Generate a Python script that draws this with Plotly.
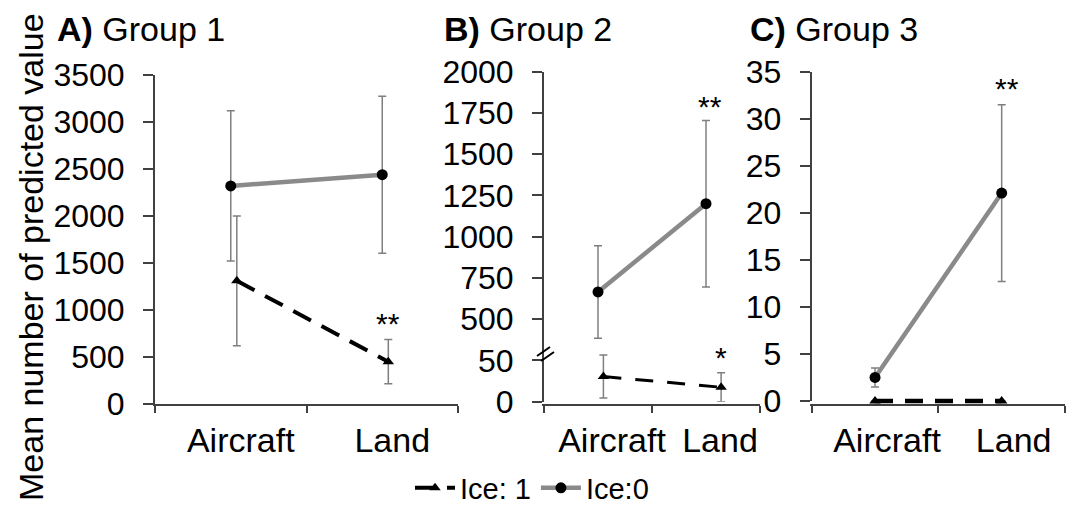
import plotly.graph_objects as go

W, H = 1073, 508

# ---------------- data ----------------
categories = ["Aircraft", "Land"]

g1_ice0 = [2320, 2440]
g1_ice0_err = [800, 835]
g1_ice1 = [1310, 450]
g1_ice1_err = [690, 235]

g2_ice0 = [665, 1200]
g2_ice0_err = [280, 505]
g2_ice1 = [30.5, 17.5]
g2_ice1_err = [26, 17.5]

g3_ice0 = [2.5, 22.1]
g3_ice0_err = [1.0, 9.4]
g3_ice1 = [0, 0]
g3_ice1_err = [0, 0]

g1_ticks = [0, 500, 1000, 1500, 2000, 2500, 3000, 3500]
g2_tickvals = [0, 250, 500, 750, 1000, 1250, 1500, 1750, 2000]
g2_ticktext = ["0", "50", "500", "750", "1000", "1250", "1500", "1750", "2000"]
g3_ticks = [0, 5, 10, 15, 20, 25, 30, 35]

# ---------------- styling ----------------
FONT = "Liberation Sans, Arial, sans-serif"
AX = "#404040"
GRAY = "#8a8a8a"
ERR = "#7f7f7f"


def px_x(p):
    return p / W


def px_y(p):
    return 1 - p / H


xpos = [0, 1]
off_a = [0.04, 0.04]
off_b = [0.05, 0.14]

fig = go.Figure()


def add_pair(xa, ya, xa1, ya1, ice0, e0, ice1, e1, offs, show, w1=4, dash1="dash"):
    fig.add_trace(go.Scatter(
        x=[p + o for p, o in zip(xpos, offs)], y=ice1, xaxis=xa1, yaxis=ya1,
        mode="lines+markers", name="Ice: 1", legendgroup="i1", showlegend=show,
        legendrank=1,
        line=dict(color="black", width=w1, dash=dash1),
        marker=dict(symbol="triangle-up", size=10, color="black"),
        error_y=dict(type="data", array=e1, visible=True, color=ERR,
                     thickness=1.5, width=4),
        cliponaxis=False))
    fig.add_trace(go.Scatter(
        x=xpos, y=ice0, xaxis=xa, yaxis=ya,
        mode="lines+markers", name="Ice:0", legendgroup="i0", showlegend=show,
        legendrank=2,
        line=dict(color=GRAY, width=4.5),
        marker=dict(symbol="circle", size=11, color="black"),
        error_y=dict(type="data", array=e0, visible=True, color=ERR,
                     thickness=1.5, width=4),
        cliponaxis=False))


add_pair("x", "y", "x", "y", g1_ice0, g1_ice0_err, g1_ice1, g1_ice1_err, off_a, True,
         dash1="20px,12px")
add_pair("x2", "y2", "x2", "y4", g2_ice0, g2_ice0_err, g2_ice1, g2_ice1_err, off_b, False,
         w1=3, dash1="18px,14px")
add_pair("x3", "y3", "x5", "y5", g3_ice0, g3_ice0_err, g3_ice1, g3_ice1_err, [0, 0], False,
         w1=4.5, dash1="18px,12px")

ytickfont = dict(family=FONT, size=32, color="black")
xtickfont = dict(family=FONT, size=34, color="black")


def xaxis(dom, shift):
    return dict(domain=dom, range=[-0.5, 1.5], tickvals=xpos, ticktext=categories,
                ticks="", showline=True, linecolor=AX, linewidth=2,
                showgrid=False, zeroline=False, tickfont=xtickfont,
                ticklabelstandoff=5, ticklabelshift=shift, layer="below traces",
                minor=dict(tickvals=[-0.5, 0.5, 1.5], ticks="outside",
                           ticklen=7, tickwidth=2, tickcolor=AX))


def yaxis(dom, rng, tv, tt=None, anchor="x"):
    d = dict(domain=dom, range=rng, tickvals=tv, ticks="outside", ticklen=10,
             tickwidth=2, tickcolor=AX, showline=True, linecolor=AX, linewidth=2,
             showgrid=False, zeroline=False, tickfont=ytickfont, anchor=anchor,
             ticklabelstandoff=12, layer="below traces")
    if tt is not None:
        d["ticktext"] = tt
    return d


# panel C: invisible helper axes (same scale, a taller clip box) so the
# zero-level dashed line is not clipped at the axis
c_top, c_bot, c_ext = 71.7, 401.0, 12.0
c_units_per_px = 35 / (c_bot - c_top)

fig.update_layout(
    width=W, height=H,
    margin=dict(l=0, r=0, t=0, b=0, autoexpand=False),
    paper_bgcolor="white", plot_bgcolor="rgba(0,0,0,0)",
    font=dict(family=FONT, color="black"),
    xaxis=xaxis([px_x(155), px_x(458)], 10),
    yaxis=yaxis([px_y(404), px_y(75)], [0, 3500], g1_ticks, anchor="x"),
    xaxis2=xaxis([px_x(544), px_x(760)], 14),
    yaxis2=yaxis([px_y(401.7), px_y(71.7)], [0, 2000], g2_tickvals, g2_ticktext, anchor="x2"),
    yaxis4=dict(domain=[px_y(401.7), px_y(71.7)], range=[0, 400], overlaying="y2",
                visible=False, anchor="x2"),
    xaxis3=xaxis([px_x(811.7), px_x(1065)], 12),
    yaxis3=yaxis([px_y(c_bot), px_y(c_top)], [0, 35], g3_ticks, anchor="x3"),
    xaxis5=dict(domain=[px_x(811.7), px_x(1065)], range=[-0.5, 1.5], visible=False,
                anchor="y5"),
    yaxis5=dict(domain=[px_y(c_bot + c_ext), px_y(c_top)],
                range=[-c_ext * c_units_per_px, 35], visible=False, anchor="x5"),
    legend=dict(orientation="h", x=px_x(532), xanchor="center",
                y=px_y(488), yanchor="middle",
                font=dict(family=FONT, size=29, color="black"),
                bgcolor="rgba(0,0,0,0)", itemwidth=40, tracegroupgap=0),
    showlegend=True,
)

ann = []
title_font = dict(family=FONT, size=34, color="black")
for txt, xl in [("<b>A)</b> Group 1", 55), ("<b>B)</b> Group 2", 442), ("<b>C)</b> Group 3", 748)]:
    ann.append(dict(text=txt, x=px_x(xl), y=px_y(29), xref="paper", yref="paper",
                    xanchor="left", yanchor="middle", showarrow=False, font=title_font))

ann.append(dict(text="Mean number of predicted value", x=px_x(31), y=px_y(257),
                xref="paper", yref="paper", textangle=-90, showarrow=False,
                xanchor="center", yanchor="middle",
                font=dict(family=FONT, size=34, color="black")))

star_font = dict(family=FONT, size=30, color="black")
ann.append(dict(text="**", x=1.04, y=860, xref="x", yref="y", showarrow=False, font=star_font))
ann.append(dict(text="**", x=1.04, y=1790, xref="x2", yref="y2", showarrow=False, font=star_font))
ann.append(dict(text="*", x=1.14, y=53, xref="x2", yref="y4", showarrow=False, font=star_font))
ann.append(dict(text="**", x=1.04, y=33.2, xref="x3", yref="y3", showarrow=False, font=star_font))
fig.update_layout(annotations=ann)

# axis-break marks on panel B
shapes = []
for (x0, y0, x1, y1) in [(537, 356, 550, 347), (541, 361, 554, 352)]:
    shapes.append(dict(type="line", xref="paper", yref="paper",
                       x0=px_x(x0), y0=px_y(y0), x1=px_x(x1), y1=px_y(y1),
                       line=dict(color="black", width=2)))
fig.update_layout(shapes=shapes)

fig.write_html("out.html", config={"displayModeBar": False},
               post_script="document.body.style.margin='0';document.body.style.overflow='hidden';")
